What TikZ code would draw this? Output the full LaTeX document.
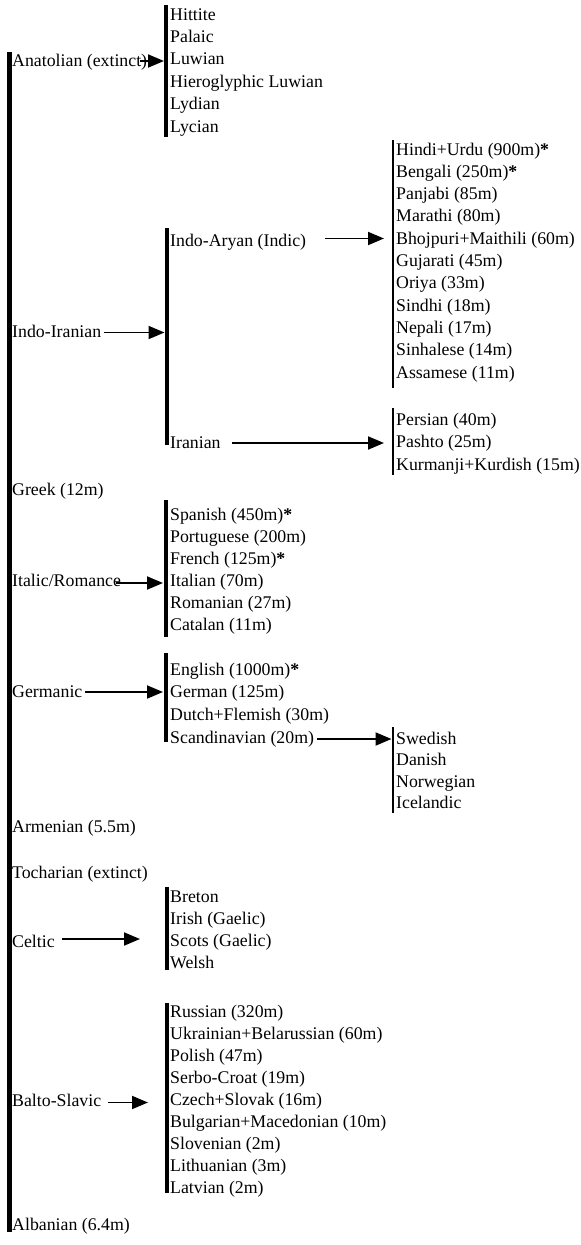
\documentclass[tikz,border=0pt]{standalone}
\usepackage{fontspec}
\setmainfont{Liberation Serif}
\usetikzlibrary{arrows.meta}
\tikzset{
  lang/.style={anchor=base west, inner sep=0pt},
  bar/.style={line width=4.5pt},
  thinbar/.style={line width=2.5pt},
  arr/.style={line width=1.9pt, -{Triangle[length=16pt,width=13pt]}},
}
\newcommand{\most}{\textbf{*}}
\begin{document}
\begin{tikzpicture}[x=1pt,y=-1pt,font=\fontsize{17.8}{22}\selectfont]
      \useasboundingbox (0,0) rectangle (581,1245);
      % main branch
      \coordinate (ie-top) at (9.5,52);
      \coordinate (ie-bot) at (9.5,1232);
      \draw[bar] (ie-top) -- (ie-bot);
      \node[lang] (anatolian) at (12,66) {Anatolian (extinct)};
      \node[lang] (indoiranian) at (12,337.5) {Indo-Iranian};
      \node[lang] (greek) at (12,495) {Greek (12m)};
      \node[lang] (italic) at (12,586) {Italic/Romance};
      \node[lang] (germanic) at (12,697) {Germanic};
      \node[lang] (armenian) at (12,832) {Armenian (5.5m)};
      \node[lang] (tocharian) at (12,878) {Tocharian (extinct)};
      \node[lang] (celtic) at (12,947) {Celtic};
      \node[lang] (baltoslavic) at (12,1106) {Balto-Slavic};
      \node[lang] (albanian) at (12,1230) {Albanian (6.4m)};
      % anatolian
      \coordinate (anatolian-a) at (140,61);
      \coordinate (anatolian-b) at (164,61);
      \draw[arr] (anatolian-a) -- (anatolian-b);
      \coordinate (anatolian-top) at (166,5);
      \coordinate (anatolian-bot) at (166,137);
      \draw[bar] (anatolian-top) -- (anatolian-bot);
      \node[lang] (hittite) at (170,20) {Hittite};
      \node[lang] (palaic) at (170,42.4) {Palaic};
      \node[lang] (luwian) at (170,64.8) {Luwian};
      \node[lang] (hluwian) at (170,87.2) {Hieroglyphic Luwian};
      \node[lang] (lydian) at (170,109.6) {Lydian};
      \node[lang] (lycian) at (170,132) {Lycian};
      % indo-iranian
      \coordinate (indoiranian-a) at (104,332.5);
      \coordinate (indoiranian-b) at (164.5,332.5);
      \draw[arr] (indoiranian-a) -- (indoiranian-b);
      \coordinate (indoiranian-top) at (167,228);
      \coordinate (indoiranian-bot) at (167,445);
      \draw[bar] (indoiranian-top) -- (indoiranian-bot);
      \node[lang] (indoaryan) at (170,246) {Indo-Aryan (Indic)};
      \node[lang] (iranian) at (170,448) {Iranian};
      % indo-aryan
      \coordinate (indoaryan-a) at (325,238.5);
      \coordinate (indoaryan-b) at (384,238.5);
      \draw[arr] (indoaryan-a) -- (indoaryan-b);
      \coordinate (indoaryan-top) at (393,140);
      \coordinate (indoaryan-bot) at (393,388);
      \draw[thinbar] (indoaryan-top) -- (indoaryan-bot);
      \node[lang] (hindi) at (396,155) {Hindi+Urdu (900m)\most};
      \node[lang] (bengali) at (396,177.3) {Bengali (250m)\most};
      \node[lang] (panjabi) at (396,199.6) {Panjabi (85m)};
      \node[lang] (marathi) at (396,221.9) {Marathi (80m)};
      \node[lang] (bhojpuri) at (396,244.2) {Bhojpuri+Maithili (60m)};
      \node[lang] (gujarati) at (396,266.5) {Gujarati (45m)};
      \node[lang] (oriya) at (396,288.8) {Oriya (33m)};
      \node[lang] (sindhi) at (396,311.1) {Sindhi (18m)};
      \node[lang] (nepali) at (396,333.4) {Nepali (17m)};
      \node[lang] (sinhalese) at (396,355.7) {Sinhalese (14m)};
      \node[lang] (assamese) at (396,378) {Assamese (11m)};
      % iranian
      \coordinate (iranian-a) at (232,443);
      \coordinate (iranian-b) at (384,443);
      \draw[arr] (iranian-a) -- (iranian-b);
      \coordinate (iranian-top) at (393,408);
      \coordinate (iranian-bot) at (393,475);
      \draw[thinbar] (iranian-top) -- (iranian-bot);
      \node[lang] (persian) at (396,425) {Persian (40m)};
      \node[lang] (pashto) at (396,447.5) {Pashto (25m)};
      \node[lang] (kurdish) at (396,470) {Kurmanji+Kurdish (15m)};
      % italic/romance
      \coordinate (italic-a) at (116,583);
      \coordinate (italic-b) at (163,583);
      \draw[arr] (italic-a) -- (italic-b);
      \coordinate (italic-top) at (166,500);
      \coordinate (italic-bot) at (166,637);
      \draw[bar] (italic-top) -- (italic-bot);
      \node[lang] (spanish) at (170,520) {Spanish (450m)\most};
      \node[lang] (portuguese) at (170,542) {Portuguese (200m)};
      \node[lang] (french) at (170,564) {French (125m)\most};
      \node[lang] (italian) at (170,586) {Italian (70m)};
      \node[lang] (romanian) at (170,608) {Romanian (27m)};
      \node[lang] (catalan) at (170,630) {Catalan (11m)};
      % germanic
      \coordinate (germanic-a) at (85,692);
      \coordinate (germanic-b) at (163,692);
      \draw[arr] (germanic-a) -- (germanic-b);
      \coordinate (germanic-top) at (166,653);
      \coordinate (germanic-bot) at (166,742);
      \draw[bar] (germanic-top) -- (germanic-bot);
      \node[lang] (english) at (170,675) {English (1000m)\most};
      \node[lang] (german) at (170,697.7) {German (125m)};
      \node[lang] (dutch) at (170,720.3) {Dutch+Flemish (30m)};
      \node[lang] (scandinavian) at (170,743) {Scandinavian (20m)};
      % scandinavian
      \coordinate (scandinavian-a) at (317,739);
      \coordinate (scandinavian-b) at (391.5,739);
      \draw[arr] (scandinavian-a) -- (scandinavian-b);
      \coordinate (scandinavian-top) at (393,727);
      \coordinate (scandinavian-bot) at (393,813);
      \draw[thinbar] (scandinavian-top) -- (scandinavian-bot);
      \node[lang] (swedish) at (396,744) {Swedish};
      \node[lang] (danish) at (396,765.5) {Danish};
      \node[lang] (norwegian) at (396,787) {Norwegian};
      \node[lang] (icelandic) at (396,808.5) {Icelandic};
      % celtic
      \coordinate (celtic-a) at (62,939);
      \coordinate (celtic-b) at (140,939);
      \draw[arr] (celtic-a) -- (celtic-b);
      \coordinate (celtic-top) at (167,887);
      \coordinate (celtic-bot) at (167,970);
      \draw[bar] (celtic-top) -- (celtic-bot);
      \node[lang] (breton) at (170,902) {Breton};
      \node[lang] (irish) at (170,924) {Irish (Gaelic)};
      \node[lang] (scots) at (170,946) {Scots (Gaelic)};
      \node[lang] (welsh) at (170,968) {Welsh};
      % balto-slavic
      \coordinate (baltoslavic-a) at (108,1102.5);
      \coordinate (baltoslavic-b) at (148,1102.5);
      \draw[arr] (baltoslavic-a) -- (baltoslavic-b);
      \coordinate (baltoslavic-top) at (167,1003);
      \coordinate (baltoslavic-bot) at (167,1193);
      \draw[bar] (baltoslavic-top) -- (baltoslavic-bot);
      \node[lang] (russian) at (170,1017) {Russian (320m)};
      \node[lang] (ukrainian) at (170,1039) {Ukrainian+Belarussian (60m)};
      \node[lang] (polish) at (170,1061) {Polish (47m)};
      \node[lang] (serbocroat) at (170,1083) {Serbo-Croat (19m)};
      \node[lang] (czech) at (170,1105) {Czech+Slovak (16m)};
      \node[lang] (bulgarian) at (170,1127) {Bulgarian+Macedonian (10m)};
      \node[lang] (slovenian) at (170,1149) {Slovenian (2m)};
      \node[lang] (lithuanian) at (170,1171) {Lithuanian (3m)};
      \node[lang] (latvian) at (170,1193) {Latvian (2m)};
\end{tikzpicture}
\end{document}
